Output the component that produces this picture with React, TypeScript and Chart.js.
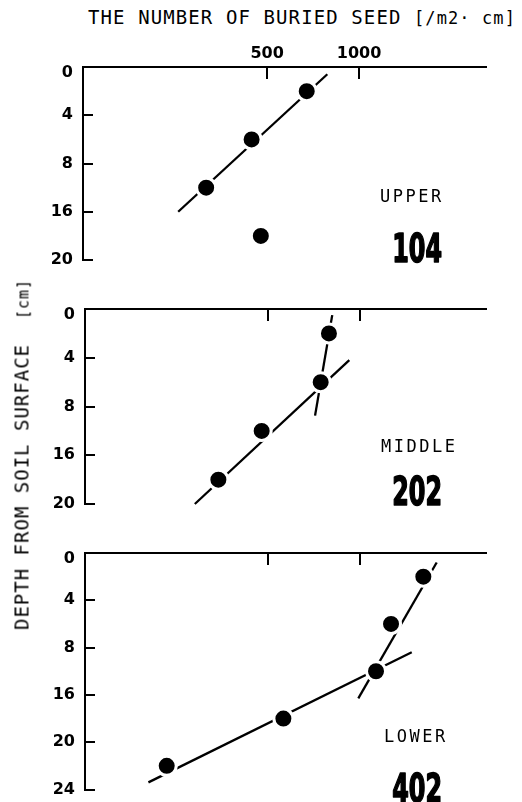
import React, { useEffect, useRef } from 'react';
import { Chart, registerables, LinearScale } from 'chart.js';

Chart.register(...registerables);

// ---------------- data ----------------
const xTickValues = [500, 1000];
const xMin = 125;
const xMax = 2600;

const upperDepthTicks = [0, 4, 8, 16, 20];
const middleDepthTicks = [0, 4, 8, 16, 20];
const lowerDepthTicks = [0, 4, 8, 16, 20, 24];

const upperDepths = [2, 6, 12, 18];
const upperSeeds = [674, 445, 316, 477];
const upperLineSeeds = [256, 787];
const upperLineDepths = [16, 0.6];

const middleDepths = [2, 6, 12, 18];
const middleSeeds = [792, 744, 476, 343];
const middleLine1Seeds = [812, 713];
const middleLine1Depths = [0.5, 9.5];
const middleLine2Seeds = [287, 924];
const middleLine2Depths = [20, 4.2];

const lowerDepths = [2, 6, 12, 18, 22];
const lowerSeeds = [1618, 1267, 1131, 561, 232];
const lowerLine1Seeds = [1790, 989];
const lowerLine1Depths = [0.8, 16.3];
const lowerLine2Seeds = [202, 1482];
const lowerLine2Depths = [23.4, 8.8];

const panelNames = ['UPPER', 'MIDDLE', 'LOWER'];
const panelCodes = ['104', '202', '402'];

// ---------------- custom depth scale (equal spacing between labelled depths) ----------------
class DepthScale extends LinearScale {
  static id = 'depth';
  getPixelForValue(value: number) {
    const t = ((this as any).ticks || []).map((k: any) => k.value);
    const n = t.length;
    if (n < 2) return super.getPixelForValue(value);
    let idx = 0;
    if (value <= t[0]) idx = (value - t[0]) / (t[1] - t[0]);
    else if (value >= t[n - 1]) idx = n - 1 + (value - t[n - 1]) / (t[n - 1] - t[n - 2]);
    else {
      for (let i = 0; i < n - 1; i++) {
        if (value >= t[i] && value <= t[i + 1]) {
          idx = i + (value - t[i]) / (t[i + 1] - t[i]);
          break;
        }
      }
    }
    return (this as any).getPixelForDecimal(idx / (n - 1));
  }
}
Chart.register(DepthScale as any);

const panelDecor = {
  id: 'panelDecor',
  afterDraw(chart: any, _args: any, opts: any) {
    const { ctx, chartArea, scales } = chart;
    const yS = scales.y;
    const xS = scales.x;
    ctx.save();
    ctx.strokeStyle = '#000';
    ctx.lineWidth = 2;
    yS.ticks.forEach((t: any) => {
      const y = Math.round(yS.getPixelForValue(t.value));
      ctx.beginPath();
      ctx.moveTo(chartArea.left - 1, y);
      ctx.lineTo(chartArea.left + 10, y);
      ctx.stroke();
    });
    xS.ticks.forEach((t: any) => {
      const x = Math.round(xS.getPixelForValue(t.value));
      ctx.beginPath();
      ctx.moveTo(x, chartArea.top);
      ctx.lineTo(x, chartArea.top + 12);
      ctx.stroke();
    });
    ctx.fillStyle = '#000';
    ctx.textAlign = 'left';
    ctx.textBaseline = 'alphabetic';
    ctx.font = '17px "DejaVu Sans Mono"';
    (ctx as any).letterSpacing = '2.5px';
    ctx.fillText(opts.name, opts.nameX, opts.nameY);
    (ctx as any).letterSpacing = '0px';
    // condensed heavy numerals
    ctx.save();
    ctx.translate(opts.codeX, opts.codeY);
    ctx.scale(0.68, 1);
    ctx.font = 'bold 39px "DejaVu Sans Condensed", "DejaVu Sans", sans-serif';
    ctx.textAlign = 'right';
    ctx.lineWidth = 1.6;
    ctx.lineJoin = 'round';
    ctx.fillText(opts.code, 0, 0);
    ctx.strokeText(opts.code, 0, 0);
    ctx.restore();
    ctx.restore();
  },
};

type PanelProps = {
  top: number;
  height: number;
  yAxisWidth: number;
  xAxisHeight: number;
  padBottom: number;
  showX: boolean;
  depthTicks: number[];
  depths: number[];
  seeds: number[];
  lines: { seeds: number[]; depths: number[] }[];
  name: string;
  code: string;
  nameX: number;
  nameY: number;
  codeX: number;
  codeY: number;
};

function Panel(p: PanelProps) {
  const ref = useRef<HTMLCanvasElement | null>(null);
  useEffect(() => {
    if (!ref.current) return;
    const datasets: any[] = [
      {
        data: p.seeds.map((s, i) => ({ x: s, y: p.depths[i] })),
        showLine: false,
        pointRadius: 9.5,
        pointBackgroundColor: '#000',
        pointBorderColor: '#fff',
        pointBorderWidth: 3,
        clip: false,
      },
      ...p.lines.map((l) => ({
        data: l.seeds.map((s, i) => ({ x: s, y: l.depths[i] })),
        showLine: true,
        borderColor: '#000',
        borderWidth: 2.3,
        pointRadius: 0,
        fill: false,
        clip: false,
      })),
    ];
    const chart = new Chart(ref.current, {
      type: 'scatter',
      data: { datasets },
      plugins: [panelDecor as any],
      options: {
        animation: false,
        responsive: false,
        events: [],
        layout: { padding: { left: 0, top: 0, right: 36, bottom: p.padBottom } },
        plugins: {
          legend: { display: false },
          tooltip: { enabled: false },
          panelDecor: {
            name: p.name,
            code: p.code,
            nameX: p.nameX,
            nameY: p.nameY,
            codeX: p.codeX,
            codeY: p.codeY,
          },
        } as any,
        scales: {
          x: {
            type: 'logarithmic',
            position: 'top',
            min: xMin,
            max: xMax,
            afterBuildTicks: (s: any) => {
              s.ticks = xTickValues.map((v) => ({ value: v }));
            },
            afterFit: (s: any) => {
              s.height = p.xAxisHeight;
              s.paddingLeft = 0;
              s.paddingRight = 0;
            },
            grid: { display: false, drawTicks: false },
            border: { display: true, color: '#000', width: 2 },
            ticks: {
              display: p.showX,
              color: '#000',
              autoSkip: false,
              maxRotation: 0,
              padding: 4,
              font: { family: 'DejaVu Sans', weight: 'bold', size: 16 },
              callback: (v: any) => String(v),
            },
          } as any,
          y: {
            type: 'depth',
            reverse: true,
            min: 0,
            max: p.depthTicks[p.depthTicks.length - 1],
            afterBuildTicks: (s: any) => {
              s.ticks = p.depthTicks.map((v) => ({ value: v }));
            },
            afterFit: (s: any) => {
              s.width = p.yAxisWidth;
              s.paddingTop = 0;
              s.paddingBottom = 0;
            },
            grid: { display: false, drawTicks: false },
            border: { display: true, color: '#000', width: 2 },
            ticks: {
              color: '#000',
              autoSkip: false,
              padding: 10,
              font: { family: 'DejaVu Sans', weight: 'bold', size: 16, lineHeight: 0.75 },
              callback: (v: any, i: number) => (i === 0 ? ['', String(v)] : String(v)),
            },
          } as any,
        },
      },
    });
    return () => chart.destroy();
  }, []);
  return (
    <div style={{ position: 'absolute', left: 0, top: p.top, width: 522, height: p.height }}>
      <canvas ref={ref} width={522} height={p.height} style={{ display: 'block', width: 522, height: p.height }} />
    </div>
  );
}

export default function App() {
  const labelFont = '"DejaVu Sans Mono", monospace';
  return (
    <div style={{ position: 'absolute', left: 0, top: 0, width: 522, height: 802, background: '#fff', overflow: 'hidden' }}>
      <div
        style={{
          position: 'absolute',
          left: 88,
          top: 8,
          fontFamily: labelFont,
          fontSize: 19,
          lineHeight: '19px',
          letterSpacing: '1.1px',
          whiteSpace: 'pre',
          color: '#000',
        }}
      >
        THE NUMBER OF BURIED SEED <span style={{ fontSize: 17 }}>[/m2· cm]</span>
      </div>
      <div
        style={{
          position: 'absolute',
          left: 21.5 - 200,
          top: 454 - 9.5,
          width: 400,
          height: 19,
          textAlign: 'center',
          fontFamily: labelFont,
          fontSize: 19,
          lineHeight: '19px',
          letterSpacing: '1px',
          whiteSpace: 'pre',
          color: '#000',
          transform: 'rotate(-90deg)',
          willChange: 'transform',
          WebkitFontSmoothing: 'antialiased',
        } as any}
      >
        DEPTH FROM SOIL SURFACE{'  '}<span style={{ fontSize: 15 }}>[cm]</span>
      </div>
      <Panel
        top={0}
        height={275}
        yAxisWidth={83}
        xAxisHeight={67}
        padBottom={15}
        showX={true}
        depthTicks={upperDepthTicks}
        depths={upperDepths}
        seeds={upperSeeds}
        lines={[{ seeds: upperLineSeeds, depths: upperLineDepths }]}
        name={panelNames[0]}
        code={panelCodes[0]}
        nameX={380}
        nameY={201.7}
        codeX={442}
        codeY={262}
      />
      <Panel
        top={280}
        height={238}
        yAxisWidth={85}
        xAxisHeight={29}
        padBottom={14}
        showX={false}
        depthTicks={middleDepthTicks}
        depths={middleDepths}
        seeds={middleSeeds}
        lines={[
          { seeds: middleLine1Seeds, depths: middleLine1Depths },
          { seeds: middleLine2Seeds, depths: middleLine2Depths },
        ]}
        name={panelNames[1]}
        code={panelCodes[1]}
        nameX={381}
        nameY={172.3}
        codeX={442}
        codeY={225}
      />
      <Panel
        top={530}
        height={272}
        yAxisWidth={85}
        xAxisHeight={23}
        padBottom={4}
        showX={false}
        depthTicks={lowerDepthTicks}
        depths={lowerDepths}
        seeds={lowerSeeds}
        lines={[
          { seeds: lowerLine1Seeds, depths: lowerLine1Depths },
          { seeds: lowerLine2Seeds, depths: lowerLine2Depths },
        ]}
        name={panelNames[2]}
        code={panelCodes[2]}
        nameX={384}
        nameY={211.7}
        codeX={442}
        codeY={271.7}
      />
    </div>
  );
}
